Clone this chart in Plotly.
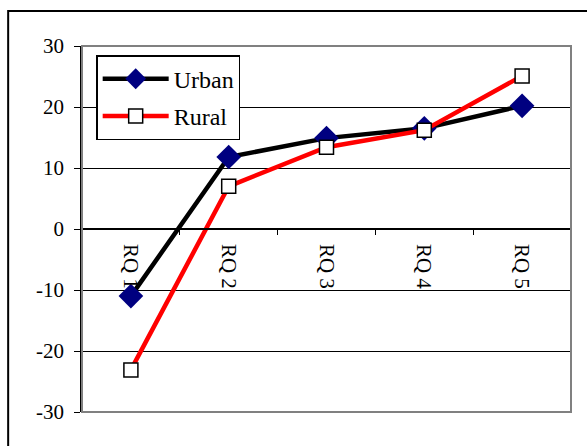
import plotly.graph_objects as go

categories = ["RQ 1", "RQ 2", "RQ 3", "RQ 4", "RQ 5"]
urban = [-11.0, 11.8, 14.9, 16.5, 20.2]
rural = [-23.1, 7.0, 13.4, 16.2, 25.1]
y_ticks = [-30, -20, -10, 0, 10, 20, 30]
y_tick_text = ["-30", "-20", "-10", "0", "10", "20", "30"]

FONT = "Liberation Serif, Times New Roman, serif"

fig = go.Figure()
fig.add_trace(go.Scatter(
    x=categories, y=urban, name="Urban", mode="lines+markers",
    legendgroup="u",
    line=dict(color="black", width=4.5),
    marker=dict(symbol="diamond", size=19, color="#000080",
                line=dict(color="#000080", width=0)),
))
fig.add_trace(go.Scatter(
    x=categories, y=rural, name="Rural", mode="lines+markers",
    legendgroup="r",
    line=dict(color="#ff0000", width=4.5),
    marker=dict(symbol="square", size=14, color="white",
                line=dict(color="black", width=1.5)),
))

# Outer chart frame, extending past the right and bottom edges
fig.add_shape(type="rect", xref="paper", yref="paper",
              x0=-0.151, x1=1.2, y0=-0.3, y1=1.0956,
              line=dict(color="black", width=2), layer="below")
# Plot-area border (gray)
fig.add_shape(type="rect", xref="paper", yref="paper",
              x0=0, x1=1, y0=0, y1=1,
              line=dict(color="#808080", width=2), layer="above")

fig.update_layout(
    width=587, height=446,
    margin=dict(l=82, r=16, t=46, b=34),
    paper_bgcolor="white", plot_bgcolor="white",
    font=dict(family=FONT, size=21, color="black"),
    showlegend=True,
    legend=dict(
        x=0.029, y=0.975, xanchor="left", yanchor="top",
        bgcolor="white", bordercolor="black", borderwidth=1.5,
        font=dict(family=FONT, size=24, color="black"),
        itemwidth=66, tracegroupgap=3, traceorder="grouped",
    ),
    xaxis=dict(
        type="category", range=[-0.5, 4.5],
        anchor="free", position=0.5,
        showline=True, linecolor="black", linewidth=1.5,
        ticks="outside", tickson="boundaries", ticklen=5,
        tickcolor="black", tickwidth=1,
        tickangle=90, showgrid=False, zeroline=False,
        ticklabelstandoff=10,
        tickfont=dict(family=FONT, size=21, color="black"),
    ),
    yaxis=dict(
        range=[-30, 30], tickvals=y_ticks, ticktext=y_tick_text,
        showline=True, linecolor="black", linewidth=1.5,
        ticks="outside", ticklen=6, tickcolor="black",
        showgrid=True, gridcolor="black", gridwidth=1,
        zeroline=False, ticklabelstandoff=6,
        tickfont=dict(family=FONT, size=21, color="black"),
    ),
)

fig.write_html("out.html")
